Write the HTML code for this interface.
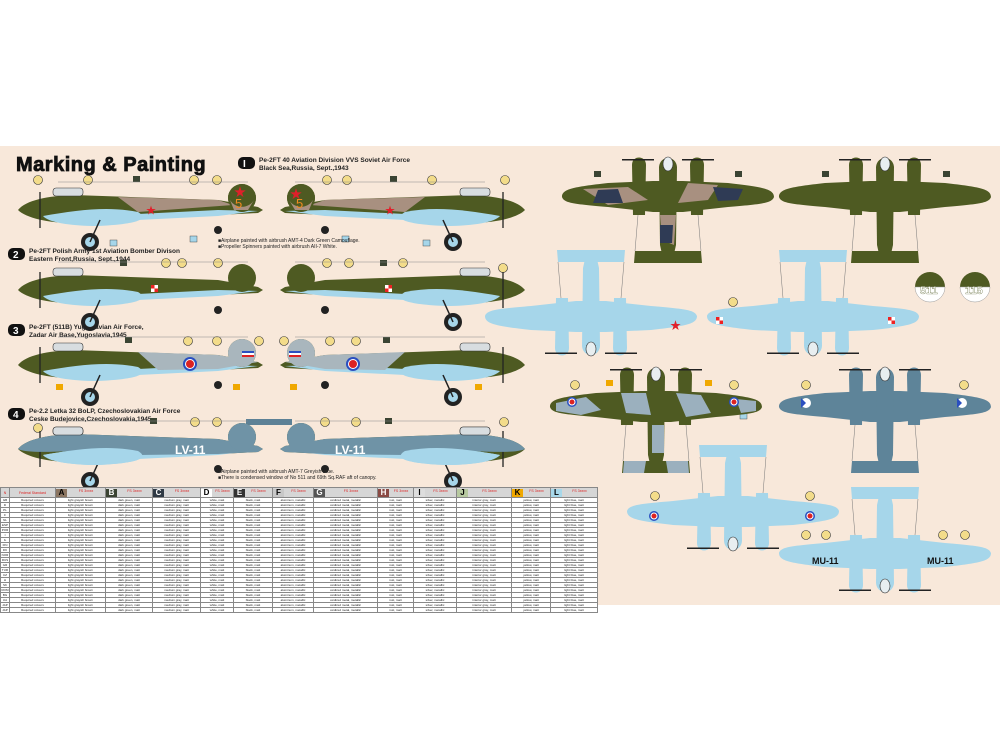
<!DOCTYPE html>
<html><head><meta charset="utf-8">
<style>
html,body{margin:0;padding:0;background:#fff;width:1000px;height:750px;overflow:hidden;font-family:"Liberation Sans","Noto Sans CJK JP",sans-serif}
#bg{position:absolute;left:0;top:146px;width:1000px;height:459px;background:#f8e8da}
svg{position:absolute;left:0;top:0}
#tbl{position:absolute;left:0;top:487px;border-collapse:collapse;font-size:3px;line-height:3px;table-layout:fixed;background:#fff}
#tbl td{border:0.5px solid #888;padding:0;height:4px;max-height:4px;text-align:center;white-space:nowrap;overflow:hidden;color:#222}
#tbl tr.h td{height:9px;background:#d6d6d6;color:#d22;font-size:3.5px;line-height:4px}
.sw{display:inline-block;width:11px;height:8px;font:bold 8px/8px "Liberation Sans",sans-serif;color:#000;vertical-align:middle;float:left}
</style></head><body>
<div id="bg"></div>
<svg width="1000" height="750" viewBox="0 0 1000 750">
<defs>
 <g id="side">
  <path d="M0,0 C8,-10 30,-14 55,-15 L200,-10 L240,-3 L245,0 L240,3 L200,5 L55,13 C30,13 8,8 0,0Z" fill="#4e5a22"/>
  <path d="M25,6 C60,0 90,-4 120,2 C130,8 125,14 80,16 C50,16 30,12 25,6Z" fill="#a6d6ea"/>
  <path d="M120,4 L200,0 L240,1 L200,6 L120,10Z" fill="#a6d6ea"/>
  <rect x="35" y="-22" width="30" height="8" rx="3" fill="#d8dde0" stroke="#333" stroke-width="0.6"/>
  <circle cx="224" cy="-12" r="14" fill="#4e5a22"/>
  <circle cx="72" cy="32" r="9" fill="#222"/><circle cx="72" cy="32" r="5" fill="#a6d6ea"/>
  <line x1="72" y1="32" x2="82" y2="10" stroke="#222" stroke-width="1.5"/>
  <circle cx="200" cy="20" r="4" fill="#222"/>
  <line x1="22" y1="-18" x2="22" y2="18" stroke="#222" stroke-width="1.3"/>
  <line x1="40" y1="-28" x2="230" y2="-28" stroke="#888" stroke-width="0.5"/>
 </g>
 <g id="top">
  <path d="M-106,2 C-106,-6 -95,-8 -60,-12 L-15,-14 L15,-14 L60,-12 C95,-8 106,-6 106,2 C104,8 95,9 60,12 L15,17 L-15,17 L-60,12 C-95,9 -104,8 -106,2Z"/>
  <path d="M-9,-28 C-8,-40 8,-40 9,-28 L8,50 L4,68 L-4,68 L-8,50Z"/>
  <path d="M-33,56 L33,56 L34,68 L-34,68Z"/>
  <path d="M-36,-30 C-36,-40 -22,-40 -22,-30 L-23,20 L-35,20Z"/>
  <path d="M36,-30 C36,-40 22,-40 22,-30 L23,20 L35,20Z"/>
  <rect x="-46" y="-36" width="32" height="1.5" fill="#222"/>
  <rect x="14" y="-36" width="32" height="1.5" fill="#222"/>
  <ellipse cx="0" cy="-31" rx="5" ry="7" fill="#e8eef0" stroke="#333" stroke-width="0.6"/>
  <line x1="-30" y1="20" x2="-33" y2="56" stroke="#777" stroke-width="0.5"/>
  <line x1="30" y1="20" x2="33" y2="56" stroke="#777" stroke-width="0.5"/>
 </g>
 <g id="cy"><circle r="4.5" fill="#f3dc8a" stroke="#333" stroke-width="0.6"/></g>
</defs>

<!-- title -->
<text x="16" y="171" font-family="Liberation Sans" font-weight="bold" font-size="20" fill="#111" stroke="#111" stroke-width="0.8" letter-spacing="0.5">Marking &amp; Painting</text>
<rect x="238" y="157" width="17" height="12" rx="5" fill="#111"/><text x="243" y="167" font-size="10" font-weight="bold" fill="#fff">I</text>
<text x="259" y="162" font-size="6.5" font-weight="bold" fill="#222">Pe-2FT 40 Aviation Division VVS Soviet Air Force</text>
<text x="259" y="170" font-size="6.5" font-weight="bold" fill="#222">Black Sea,Russia, Sept.,1943</text>

<rect x="8" y="248" width="17" height="12" rx="5" fill="#111"/><text x="13" y="258" font-size="10" font-weight="bold" fill="#fff">2</text>
<text x="29" y="253" font-size="6.5" font-weight="bold" fill="#222">Pe-2FT Polish Army 1st Aviation Bomber Divison</text>
<text x="29" y="261" font-size="6.5" font-weight="bold" fill="#222">Eastern Front,Russia, Sept.,1944</text>

<rect x="8" y="324" width="17" height="12" rx="5" fill="#111"/><text x="13" y="334" font-size="10" font-weight="bold" fill="#fff">3</text>
<text x="29" y="329" font-size="6.5" font-weight="bold" fill="#222">Pe-2FT (511B) Yugoslavian Air Force,</text>
<text x="29" y="337" font-size="6.5" font-weight="bold" fill="#222">Zadar Air Base,Yugoslavia,1945</text>

<rect x="8" y="408" width="17" height="12" rx="5" fill="#111"/><text x="13" y="418" font-size="10" font-weight="bold" fill="#fff">4</text>
<text x="29" y="413" font-size="6.5" font-weight="bold" fill="#222">Pe-2.2 Letka 32 BoLP, Czechoslovakian Air Force</text>
<text x="29" y="421" font-size="6.5" font-weight="bold" fill="#222">Ceske Budejovice,Czechoslovakia,1945</text>
<rect x="246" y="419" width="46" height="6" fill="#5d8196"/>

<!-- callouts -->
<g font-size="5" text-anchor="middle" font-weight="bold">
<use href="#cy" x="38" y="180"/><use href="#cy" x="88" y="180"/><use href="#cy" x="194" y="180"/><use href="#cy" x="217" y="180"/><use href="#cy" x="327" y="180"/><use href="#cy" x="347" y="180"/><use href="#cy" x="432" y="180"/><use href="#cy" x="505" y="180"/>
<use href="#cy" x="166" y="263"/><use href="#cy" x="182" y="263"/><use href="#cy" x="218" y="263"/><use href="#cy" x="327" y="263"/><use href="#cy" x="349" y="263"/><use href="#cy" x="403" y="263"/><use href="#cy" x="503" y="268"/>
<use href="#cy" x="188" y="341"/><use href="#cy" x="217" y="341"/><use href="#cy" x="259" y="341"/><use href="#cy" x="284" y="341"/><use href="#cy" x="330" y="341"/><use href="#cy" x="356" y="341"/>
<use href="#cy" x="38" y="428"/><use href="#cy" x="195" y="422"/><use href="#cy" x="217" y="422"/><use href="#cy" x="325" y="422"/><use href="#cy" x="356" y="422"/><use href="#cy" x="504" y="422"/>
<use href="#cy" x="579" y="310"/><use href="#cy" x="733" y="302"/><use href="#cy" x="575" y="385"/><use href="#cy" x="734" y="385"/><use href="#cy" x="655" y="496"/><use href="#cy" x="810" y="496"/><use href="#cy" x="806" y="385"/><use href="#cy" x="964" y="385"/><use href="#cy" x="806" y="535"/><use href="#cy" x="826" y="535"/><use href="#cy" x="943" y="535"/><use href="#cy" x="965" y="535"/>
</g>
<g fill="#3b4433"><rect x="133" y="176" width="7" height="6"/><rect x="390" y="176" width="7" height="6"/><rect x="120" y="260" width="7" height="6"/><rect x="380" y="260" width="7" height="6"/><rect x="125" y="337" width="7" height="6"/><rect x="383" y="337" width="7" height="6"/><rect x="150" y="418" width="7" height="6"/><rect x="385" y="418" width="7" height="6"/>
<rect x="594" y="171" width="7" height="6"/><rect x="735" y="171" width="7" height="6"/><rect x="822" y="171" width="7" height="6"/><rect x="943" y="171" width="7" height="6"/></g>
<g fill="#a6d6ea" stroke="#333" stroke-width="0.4"><rect x="110" y="240" width="7" height="6"/><rect x="190" y="236" width="7" height="6"/><rect x="342" y="236" width="7" height="6"/><rect x="423" y="240" width="7" height="6"/><rect x="650" y="413" width="7" height="6"/><rect x="740" y="413" width="7" height="6"/></g>
<g fill="#f0a800"><rect x="56" y="384" width="7" height="6"/><rect x="233" y="384" width="7" height="6"/><rect x="290" y="384" width="7" height="6"/><rect x="475" y="384" width="7" height="6"/><rect x="606" y="380" width="7" height="6"/><rect x="705" y="380" width="7" height="6"/></g>

<!-- side views row1 -->
<g transform="translate(18,210)"><use href="#side"/>
 <path d="M100,-13 L200,-10 L215,-5 L120,2Z" fill="#a89080"/>
 <circle cx="224" cy="-12" r="14" fill="#4e5a22"/><path d="M212,-10 A14,14 0 0 0 236,-10 L230,0 L216,0Z" fill="#a89080"/>
 <text x="217" y="-2" font-size="13" fill="#f28a20">5</text>
 <text x="216" y="-14" font-size="12" fill="#e0202a">★</text><text x="128" y="4" font-size="10" fill="#e0202a">★</text></g>
<g transform="translate(525,210) scale(-1,1)"><use href="#side"/>
 <path d="M100,-13 L200,-10 L215,-5 L120,2Z" fill="#a89080"/>
 <circle cx="224" cy="-12" r="14" fill="#4e5a22"/><path d="M212,-10 A14,14 0 0 0 236,-10 L230,0 L216,0Z" fill="#a89080"/></g>
<text x="290" y="198" font-size="12" fill="#e0202a">★</text><text x="385" y="214" font-size="10" fill="#e0202a">★</text>
<text x="296" y="208" font-size="13" fill="#f28a20">5</text>
<!-- row2 -->
<g transform="translate(18,290)"><use href="#side"/><rect x="133" y="-5" width="7" height="7" fill="#fff"/><rect x="133" y="-5" width="3.5" height="3.5" fill="#e22"/><rect x="136.5" y="-1.5" width="3.5" height="3.5" fill="#e22"/></g>
<g transform="translate(525,290) scale(-1,1)"><use href="#side"/><rect x="133" y="-5" width="7" height="7" fill="#fff"/><rect x="133" y="-5" width="3.5" height="3.5" fill="#e22"/><rect x="136.5" y="-1.5" width="3.5" height="3.5" fill="#e22"/></g>
<!-- row3 -->
<g transform="translate(18,365)"><use href="#side"/>
 <path d="M120,-13 L200,-10 L240,-3 L200,4 L140,5 Z" fill="#a9b6bd"/>
 <circle cx="224" cy="-12" r="14" fill="#a9b6bd"/>
 <rect x="224" y="-14" width="12" height="2" fill="#2a4fc0"/><rect x="224" y="-12" width="12" height="2" fill="#fff"/><rect x="224" y="-10" width="12" height="2" fill="#d22"/>
 <circle cx="172" cy="-1" r="7" fill="#2a4fc0"/><circle cx="172" cy="-1" r="5" fill="#fff"/><circle cx="172" cy="-1" r="4" fill="#d22"/></g>
<g transform="translate(525,365) scale(-1,1)"><use href="#side"/>
 <path d="M120,-13 L200,-10 L240,-3 L200,4 L140,5 Z" fill="#a9b6bd"/>
 <circle cx="224" cy="-12" r="14" fill="#a9b6bd"/>
 <rect x="224" y="-14" width="12" height="2" fill="#2a4fc0"/><rect x="224" y="-12" width="12" height="2" fill="#fff"/><rect x="224" y="-10" width="12" height="2" fill="#d22"/>
 <circle cx="172" cy="-1" r="7" fill="#2a4fc0"/><circle cx="172" cy="-1" r="5" fill="#fff"/><circle cx="172" cy="-1" r="4" fill="#d22"/></g>
<!-- row4 -->
<g transform="translate(18,449)"><use href="#side"/>
 <path d="M0,0 C8,-10 30,-14 55,-15 L200,-10 L240,-3 L245,0 L240,3 L200,5 L120,6 L55,2 C30,3 8,4 0,0Z" fill="#6f93a6"/>
 <path d="M25,6 C60,0 90,-4 120,2 C130,8 125,14 80,16 C50,16 30,12 25,6Z" fill="#a6d6ea"/>
 <rect x="35" y="-22" width="30" height="8" rx="3" fill="#d8dde0" stroke="#333" stroke-width="0.6"/>
 <circle cx="224" cy="-12" r="14" fill="#6f93a6"/></g>
<text x="175" y="454" font-size="12" font-weight="bold" fill="#fff">LV-11</text>
<g transform="translate(525,449) scale(-1,1)"><use href="#side"/>
 <path d="M0,0 C8,-10 30,-14 55,-15 L200,-10 L240,-3 L245,0 L240,3 L200,5 L120,6 L55,2 C30,3 8,4 0,0Z" fill="#6f93a6"/>
 <path d="M25,6 C60,0 90,-4 120,2 C130,8 125,14 80,16 C50,16 30,12 25,6Z" fill="#a6d6ea"/>
 <rect x="35" y="-22" width="30" height="8" rx="3" fill="#d8dde0" stroke="#333" stroke-width="0.6"/>
 <circle cx="224" cy="-12" r="14" fill="#6f93a6"/></g>
<text x="335" y="454" font-size="12" font-weight="bold" fill="#fff">LV-11</text>
<text x="218" y="473" font-size="5" fill="#222">■Airplane painted with airbrush AMT-7 Greyish Blue.</text>
<text x="218" y="479" font-size="5" fill="#222">■There is condensed window of No 511 and 69th Sq.RAF aft of canopy.</text>
<text x="218" y="242" font-size="5" fill="#222">■Airplane painted with airbrush AMT-4 Dark Green Camouflage.</text>
<text x="218" y="248" font-size="5" fill="#222">■Propeller Spinners painted with airbrush AII-7 White.</text>

<!-- top views -->
<g transform="translate(668,195)" fill="#4e5a22"><use href="#top"/>
 <path d="M-85,-6 L-40,-8 L-20,5 L-60,10Z M20,-12 L50,-10 L40,5 L10,8Z M-8,20 L8,20 L6,50 L-6,45Z" fill="#a89080"/>
 <path d="M-70,-5 L-50,-6 L-45,8 L-75,8Z M45,-8 L75,-6 L70,5 L50,6Z M-8,30 L5,30 L4,48 L-8,48Z" fill="#2f3b55"/></g>
<g transform="translate(885,195)" fill="#4e5a22"><use href="#top"/></g>
<g transform="translate(591,318) scale(1,-1)" fill="#a6d6ea"><use href="#top"/></g>
<text x="670" y="329" font-size="11" fill="#e0202a">★</text>
<g transform="translate(813,318) scale(1,-1)" fill="#a6d6ea"><use href="#top"/></g>
<rect x="716" y="317" width="7" height="7" fill="#fff"/><rect x="716" y="317" width="3.5" height="3.5" fill="#e22"/><rect x="719.5" y="320.5" width="3.5" height="3.5" fill="#e22"/>
<rect x="888" y="317" width="7" height="7" fill="#fff"/><rect x="888" y="317" width="3.5" height="3.5" fill="#e22"/><rect x="891.5" y="320.5" width="3.5" height="3.5" fill="#e22"/>
<path d="M915,287 A15,15 0 0 1 945,287 Z" fill="#4e5a22"/><path d="M915,287 A15,15 0 0 0 945,287 Z" fill="#fff" stroke="#999" stroke-width="0.5"/>
<text x="920" y="294" font-size="11" font-weight="bold" fill="#fff" stroke="#4e5a22" stroke-width="0.3">511</text>
<path d="M960,287 A15,15 0 0 1 990,287 Z" fill="#4e5a22"/><path d="M960,287 A15,15 0 0 0 990,287 Z" fill="#fff" stroke="#999" stroke-width="0.5"/>
<text x="965" y="294" font-size="11" font-weight="bold" fill="#fff" stroke="#4e5a22" stroke-width="0.3">115</text>

<g transform="translate(656,405)" fill="#4e5a22"><use href="#top"/>
 <path d="M-100,-2 L-70,-8 L-55,5 L-75,10 L-100,6Z M-35,-12 L-10,-12 L-5,10 L-30,8Z M20,-12 L45,-10 L55,8 L30,12Z M80,-6 L100,-4 L100,6 L85,8Z M-4,20 L8,20 L8,48 L-4,48Z M-32,56 L-10,56 L-12,68 L-33,68Z M10,56 L32,56 L33,68 L12,68Z" fill="#9bb0be"/></g>
<g transform="translate(885,405)" fill="#5e8499"><use href="#top"/></g>
<g transform="translate(733,513) scale(1,-1)" fill="#a6d6ea"><use href="#top"/></g>
<g transform="translate(885,555) scale(1,-1)" fill="#a6d6ea"><use href="#top"/></g>
<text x="812" y="564" font-size="9" font-weight="bold" fill="#111">MU-11</text>
<text x="927" y="564" font-size="9" font-weight="bold" fill="#111">MU-11</text>
<circle cx="572" cy="402" r="5" fill="#2a4fc0"/><circle cx="572" cy="402" r="3.5" fill="#fff"/><circle cx="572" cy="402" r="2.5" fill="#d22"/>
<circle cx="734" cy="402" r="5" fill="#2a4fc0"/><circle cx="734" cy="402" r="3.5" fill="#fff"/><circle cx="734" cy="402" r="2.5" fill="#d22"/>
<circle cx="654" cy="516" r="5" fill="#2a4fc0"/><circle cx="654" cy="516" r="3.5" fill="#fff"/><circle cx="654" cy="516" r="2.5" fill="#d22"/>
<circle cx="810" cy="516" r="5" fill="#2a4fc0"/><circle cx="810" cy="516" r="3.5" fill="#fff"/><circle cx="810" cy="516" r="2.5" fill="#d22"/>
<circle cx="806" cy="403" r="5" fill="#fff"/><circle cx="962" cy="403" r="5" fill="#fff"/>
<path d="M806,403 L801,398 L801,408Z" fill="#2a4fc0"/><path d="M962,403 L957,398 L957,408Z" fill="#2a4fc0"/>
</svg>

<table id="tbl"></table>
<script>
var cols=[{w:9},{w:46},{w:50,c:"#8b7561",l:"A"},{w:47,c:"#3b4433",l:"B"},{w:48,c:"#2f3a45",l:"C"},{w:33,c:"#fff",l:"D"},{w:39,c:"#333",l:"E"},{w:41,c:"#c8c8c8",l:"F"},{w:64,c:"#555",l:"G"},{w:36,c:"#8a4a44",l:"H"},{w:43,c:"#ddd",l:"I"},{w:55,c:"#b7c9a0",l:"J"},{w:39,c:"#f0a800",l:"K"},{w:47,c:"#a8d8ea",l:"L"}];
var names=["Light grayish brown","Dark green, matt","Medium gray, matt","White, matt","Black, matt","Aluminum, metallic","Oxidized Metal, metallic","Rust, matt","Silver, metallic","Interior gray, matt","Yellow, matt","Light blue, matt"];
var langs=["GB","D","PL","F","NL","ESP","POR","I","IL","FIN","DK","NOR","RUS","GR","TUR","CZ","H","SK","ROM","BG","UA","JAP","JAP"];
var t=document.getElementById("tbl");var cg="<colgroup>";cols.forEach(function(c){cg+='<col style="width:'+c.w+'px">'});
var h='<tr class="h"><td>N</td><td>Federal Standard</td>';
for(var i=2;i<cols.length;i++){h+='<td><span class="sw" style="background:'+cols[i].c+';color:'+(i==3||i==4||i==6||i==8||i==9?"#fff":"#000")+'">'+cols[i].l+'</span>FS 3xxxx</td>'}
h+='</tr>';var rows=h;
for(var r=0;r<23;r++){rows+='<tr><td>'+langs[r]+'</td><td>Required colours</td>';for(var i=0;i<12;i++){rows+='<td>'+names[i].toLowerCase()+'</td>'}rows+='</tr>'}
t.innerHTML=cg+"</colgroup>"+rows;
</script>
</body></html>
